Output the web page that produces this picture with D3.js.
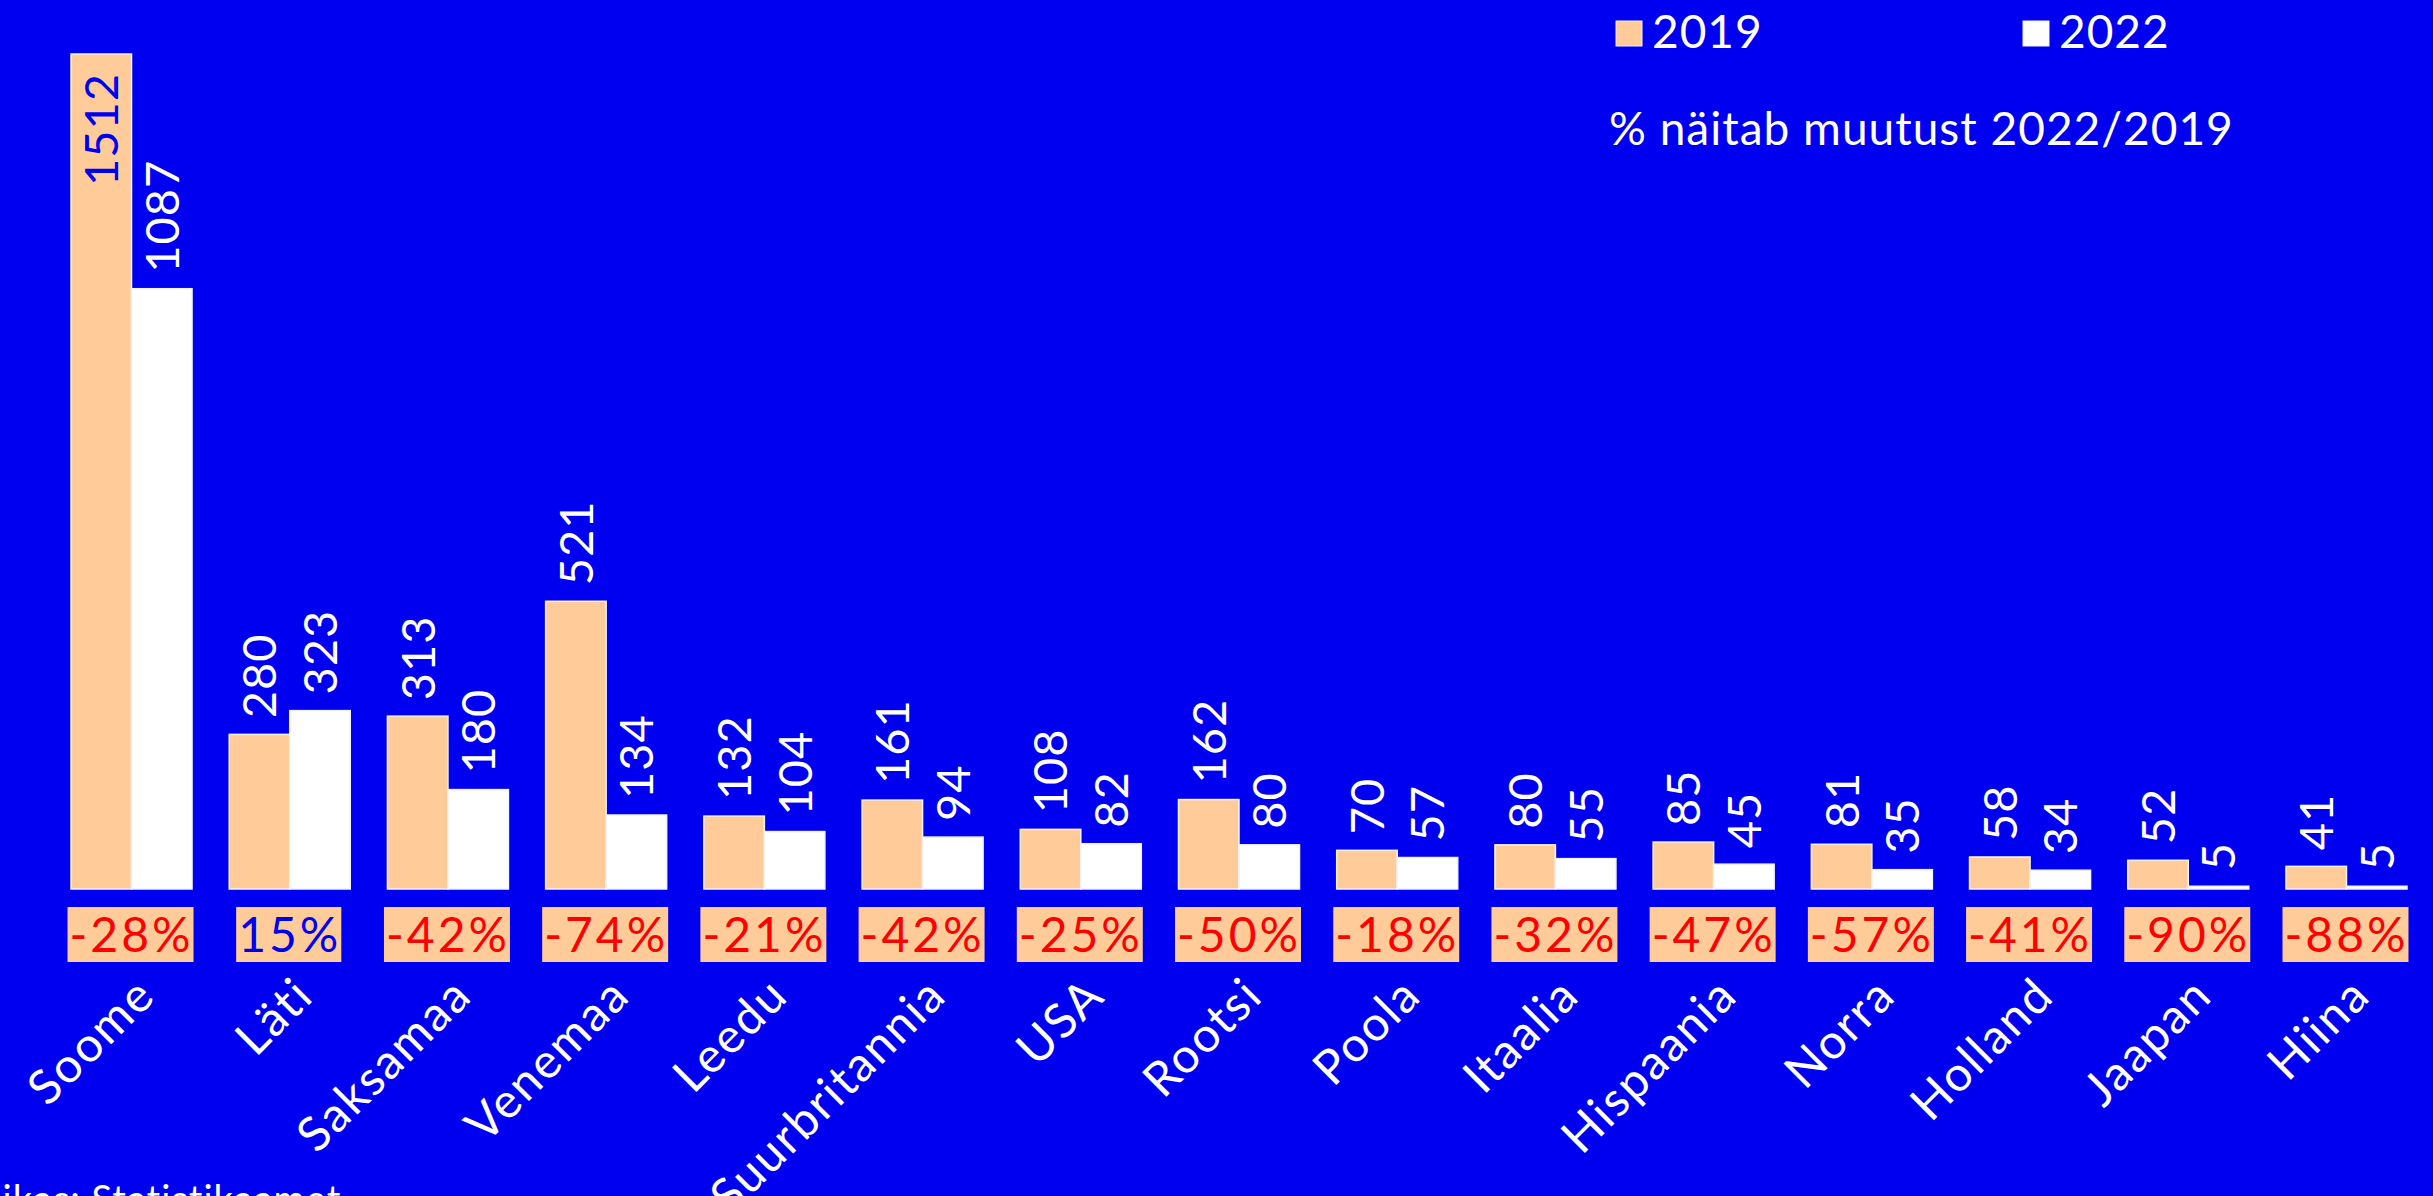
<!DOCTYPE html>
<html>
<head>
<meta charset="utf-8">
<script src="https://cdn.jsdelivr.net/npm/d3@7"></script>
<style>
  body { margin: 0; background: #0000f0; overflow: hidden; }
  text { font-family: Lato, "Open Sans", sans-serif; letter-spacing: 1px; }
</style>
</head>
<body>
<div id="chart_div"></div>
<script>
// data
var categories = ["Soome", "Läti", "Saksamaa", "Venemaa", "Leedu", "Suurbritannia", "USA", "Rootsi",
                  "Poola", "Itaalia", "Hispaania", "Norra", "Holland", "Jaapan", "Hiina"];
var series = ["2019", "2022"];
var values2019 = [1512, 280, 313, 521, 132, 161, 108, 162, 70, 80, 85, 81, 58, 52, 41];
var values2022 = [1087, 323, 180, 134, 104, 94, 82, 80, 57, 55, 45, 35, 34, 5, 5];
var changes = [-28, 15, -42, -74, -21, -42, -25, -50, -18, -32, -47, -57, -41, -90, -88];

var width = 2433, height = 1196;
var bg = "#0000f0", peach = "#ffcc99";
var colors = { "2019": peach, "2022": "#ffffff" };

var data = categories.map(function(c, i) {
    return { cat: c, v: { "2019": values2019[i], "2022": values2022[i] }, change: changes[i] };
});

var svg = d3.select("#chart_div").append("svg")
    .attr("width", width)
    .attr("height", height);

svg.append("rect").attr("width", width).attr("height", height).attr("fill", bg);

// scales
var x0 = d3.scaleBand()
    .domain(categories)
    .range([71, 2407])
    .paddingInner(0.235)
    .paddingOuter(0);
var x1 = d3.scaleBand()
    .domain(series)
    .range([0, x0.bandwidth()]);
var y = d3.scaleLinear()
    .domain([0, d3.max(values2019)])
    .range([889, 54]);

var groups = svg.selectAll(".grp")
    .data(data)
    .enter().append("g")
    .attr("class", "grp")
    .attr("transform", function(d) { return "translate(" + x0(d.cat) + ",0)"; });

// bars
groups.selectAll("rect")
    .data(function(d) { return series.map(function(s) { return { s: s, v: d.v[s] }; }); })
    .enter().append("rect")
    .attr("x", function(d) { return x1(d.s); })
    .attr("width", x1.bandwidth())
    .attr("y", function(d) { return y(d.v); })
    .attr("height", function(d) { return y(0) - y(d.v); })
    .attr("fill", function(d) { return colors[d.s]; })
    .attr("stroke", "#f2f2f2")
    .attr("stroke-width", 1.5);

// value labels, rotated (the tallest one sits inside its bar)
function inside(d) { return y(d.v) < 150; }
groups.selectAll(".val")
    .data(function(d) { return series.map(function(s) { return { s: s, v: d.v[s] }; }); })
    .enter().append("text")
    .attr("class", "val")
    .attr("transform", function(d) {
        var cx = x1(d.s) + x1.bandwidth() / 2;
        var ty = inside(d) ? y(d.v) + 19 : y(d.v) - 16;
        return "translate(" + cx + "," + ty + ") rotate(-90)";
    })
    .attr("dy", "0.36em")
    .attr("text-anchor", function(d) { return inside(d) ? "end" : "start"; })
    .attr("fill", function(d) { return inside(d) ? bg : "#fff"; })
    .style("font-size", "47px")
    .text(function(d) { return d.v; });

// change boxes
var pct = groups.append("g")
    .attr("transform", "translate(" + x0.bandwidth() / 2 + ",0)");
var pctText = pct.append("text")
    .attr("y", 952)
    .attr("text-anchor", "middle")
    .attr("fill", function(d) { return d.change < 0 ? "#ff0000" : bg; })
    .style("font-size", "48px")
    .style("letter-spacing", "3px")
    .text(function(d) { return d.change + "%"; });
pctText.each(function() {
    var w = this.getComputedTextLength();
    d3.select(this.parentNode).insert("rect", "text")
        .attr("x", -w / 2 - 2)
        .attr("width", w + 2)
        .attr("y", 907)
        .attr("height", 55)
        .attr("fill", peach);
});

// category labels
groups.append("text")
    .attr("transform", "translate(" + (x0.bandwidth() / 2 + 26) + ",998) rotate(-45)")
    .attr("text-anchor", "end")
    .attr("fill", "#fff")
    .style("font-size", "48px")
    .style("letter-spacing", "2px")
    .text(function(d) { return d.cat; });

// legend
var legend = svg.selectAll(".leg")
    .data(series)
    .enter().append("g")
    .attr("class", "leg")
    .attr("transform", function(d, i) { return "translate(" + (1616 + i * 407) + ",0)"; });
legend.append("rect")
    .attr("y", 21)
    .attr("width", 26)
    .attr("height", 25)
    .attr("fill", function(d) { return colors[d]; })
    .attr("stroke", "#f2f2f2");
legend.append("text")
    .attr("x", 36)
    .attr("y", 48)
    .attr("fill", "#fff")
    .style("font-size", "46px")
    .text(function(d) { return d; });

svg.append("text")
    .attr("x", 1609)
    .attr("y", 145)
    .attr("fill", "#fff")
    .style("font-size", "46px")
    .text("% näitab muutust 2022/2019");

// source, cut off at the bottom edge
svg.append("text")
    .attr("x", -44)
    .attr("y", 1213)
    .attr("fill", "#fff")
    .style("font-size", "38px")
    .text("Allikas: Statistikaamet");
</script>
</body>
</html>
